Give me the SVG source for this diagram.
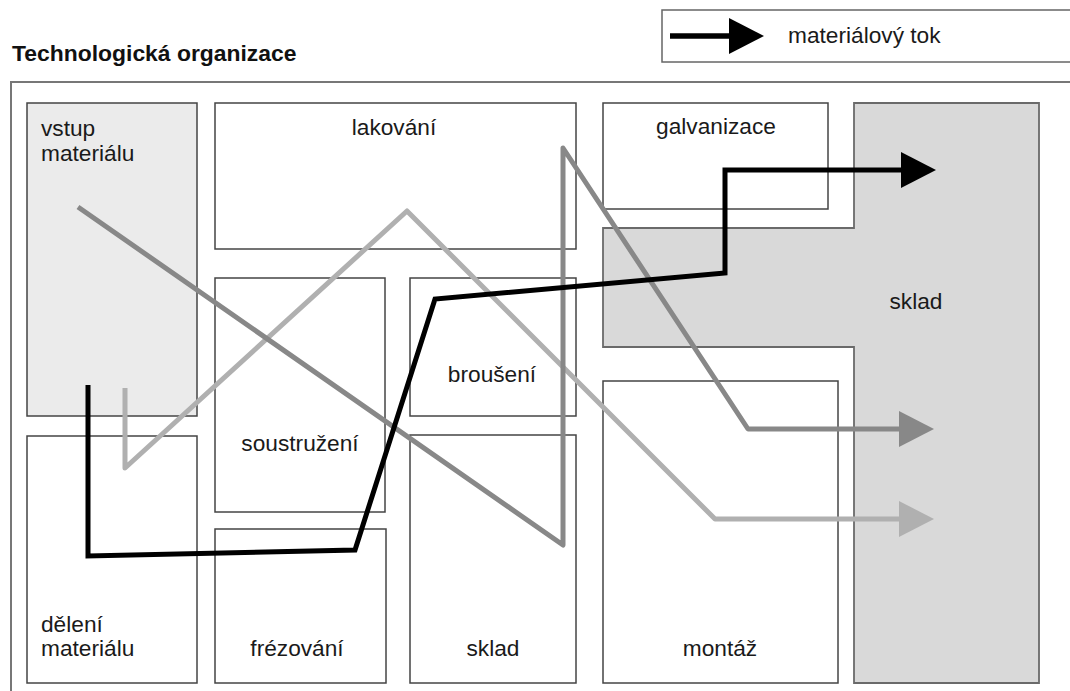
<svg xmlns="http://www.w3.org/2000/svg" width="1070" height="691" viewBox="0 0 1070 691">
  <style>
    .box { fill: #ffffff; stroke: #444444; stroke-width: 1.5; }
    .lbl { font-family: "Liberation Sans", Arial, sans-serif; font-size: 22.7px; fill: #1a1a1a; }
    .mid { text-anchor: middle; }
    .title { font-family: "Liberation Sans", Arial, sans-serif; font-size: 22.9px; font-weight: bold; fill: #111111; }
    .flow { fill: none; stroke-width: 5; }
  </style>
  <defs>
    <marker id="ahBlack" markerUnits="userSpaceOnUse" markerWidth="36" markerHeight="36" refX="0" refY="18" orient="auto" viewBox="0 0 36 36">
      <path d="M0,0 L35,18 L0,36 Z" fill="#000000"/>
    </marker>
    <marker id="ahDark" markerUnits="userSpaceOnUse" markerWidth="36" markerHeight="36" refX="0" refY="18" orient="auto" viewBox="0 0 36 36">
      <path d="M0,0 L35,18 L0,36 Z" fill="#888888"/>
    </marker>
    <marker id="ahLight" markerUnits="userSpaceOnUse" markerWidth="36" markerHeight="36" refX="0" refY="18" orient="auto" viewBox="0 0 36 36">
      <path d="M0,0 L35,18 L0,36 Z" fill="#b0b0b0"/>
    </marker>
  </defs>
  <rect x="0" y="0" width="1070" height="691" fill="#ffffff"/>

  <text class="title" x="12" y="61">Technologická organizace</text>

  <g id="legend">
    <rect x="662" y="10" width="500" height="52" fill="#ffffff" stroke="#666666" stroke-width="1.5"/>
    <line x1="670" y1="36" x2="729" y2="36" stroke="#000000" stroke-width="5.5" marker-end="url(#ahBlack)"/>
    <text class="lbl" x="788" y="43">materiálový tok</text>
  </g>

  <rect id="frame" x="11" y="82" width="1100" height="700" fill="none" stroke="#777777" stroke-width="2"/>

  <g id="vstup">
    <rect x="27" y="103" width="170" height="313" fill="#ebebeb" stroke="#444444" stroke-width="1.5"/>
    <text class="lbl" x="41" y="136">vstup</text>
    <text class="lbl" x="41" y="161">materiálu</text>
  </g>
  <g id="lakovani">
    <rect class="box" x="215" y="103" width="361" height="146"/>
    <text class="lbl mid" x="394" y="135">lakování</text>
  </g>
  <g id="galvanizace">
    <rect class="box" x="603" y="103" width="225" height="106"/>
    <text class="lbl mid" x="716" y="134">galvanizace</text>
  </g>
  <g id="sklad-velky">
    <path d="M854,103 L1039,103 L1039,683 L854,683 L854,347 L603,347 L603,228 L854,228 Z" fill="#d9d9d9" stroke="#6a6a6a" stroke-width="1.8"/>
    <text class="lbl mid" x="916" y="309">sklad</text>
  </g>
  <g id="soustruzeni">
    <rect class="box" x="215" y="278" width="170" height="234"/>
    <text class="lbl mid" x="300" y="451">soustružení</text>
  </g>
  <g id="brouseni">
    <rect class="box" x="410" y="278" width="166" height="138"/>
    <text class="lbl mid" x="492" y="382">broušení</text>
  </g>
  <g id="deleni">
    <rect class="box" x="27" y="436" width="170" height="247"/>
    <text class="lbl" x="41" y="632">dělení</text>
    <text class="lbl" x="41" y="656">materiálu</text>
  </g>
  <g id="frezovani">
    <rect class="box" x="215" y="529" width="171" height="154"/>
    <text class="lbl mid" x="297" y="656">frézování</text>
  </g>
  <g id="sklad-maly">
    <rect class="box" x="410" y="435" width="166" height="248"/>
    <text class="lbl mid" x="493" y="656">sklad</text>
  </g>
  <g id="montaz">
    <rect class="box" x="603" y="381" width="235" height="302"/>
    <text class="lbl mid" x="720" y="656">montáž</text>
  </g>

  <g id="connectors">
    <polyline class="flow" points="125,388 125,468 407,211 715,519 899,519" stroke="#b0b0b0" stroke-linejoin="round" marker-end="url(#ahLight)"/>
    <polyline class="flow" points="78,207 563,545 563,148 748,429 899,429" stroke="#888888" stroke-linejoin="round" marker-end="url(#ahDark)"/>
    <polyline class="flow" points="88,385 88,556 355,550 435,299 725,273 725,170 901,170" stroke="#000000" stroke-linejoin="miter" marker-end="url(#ahBlack)"/>
  </g>
</svg>
